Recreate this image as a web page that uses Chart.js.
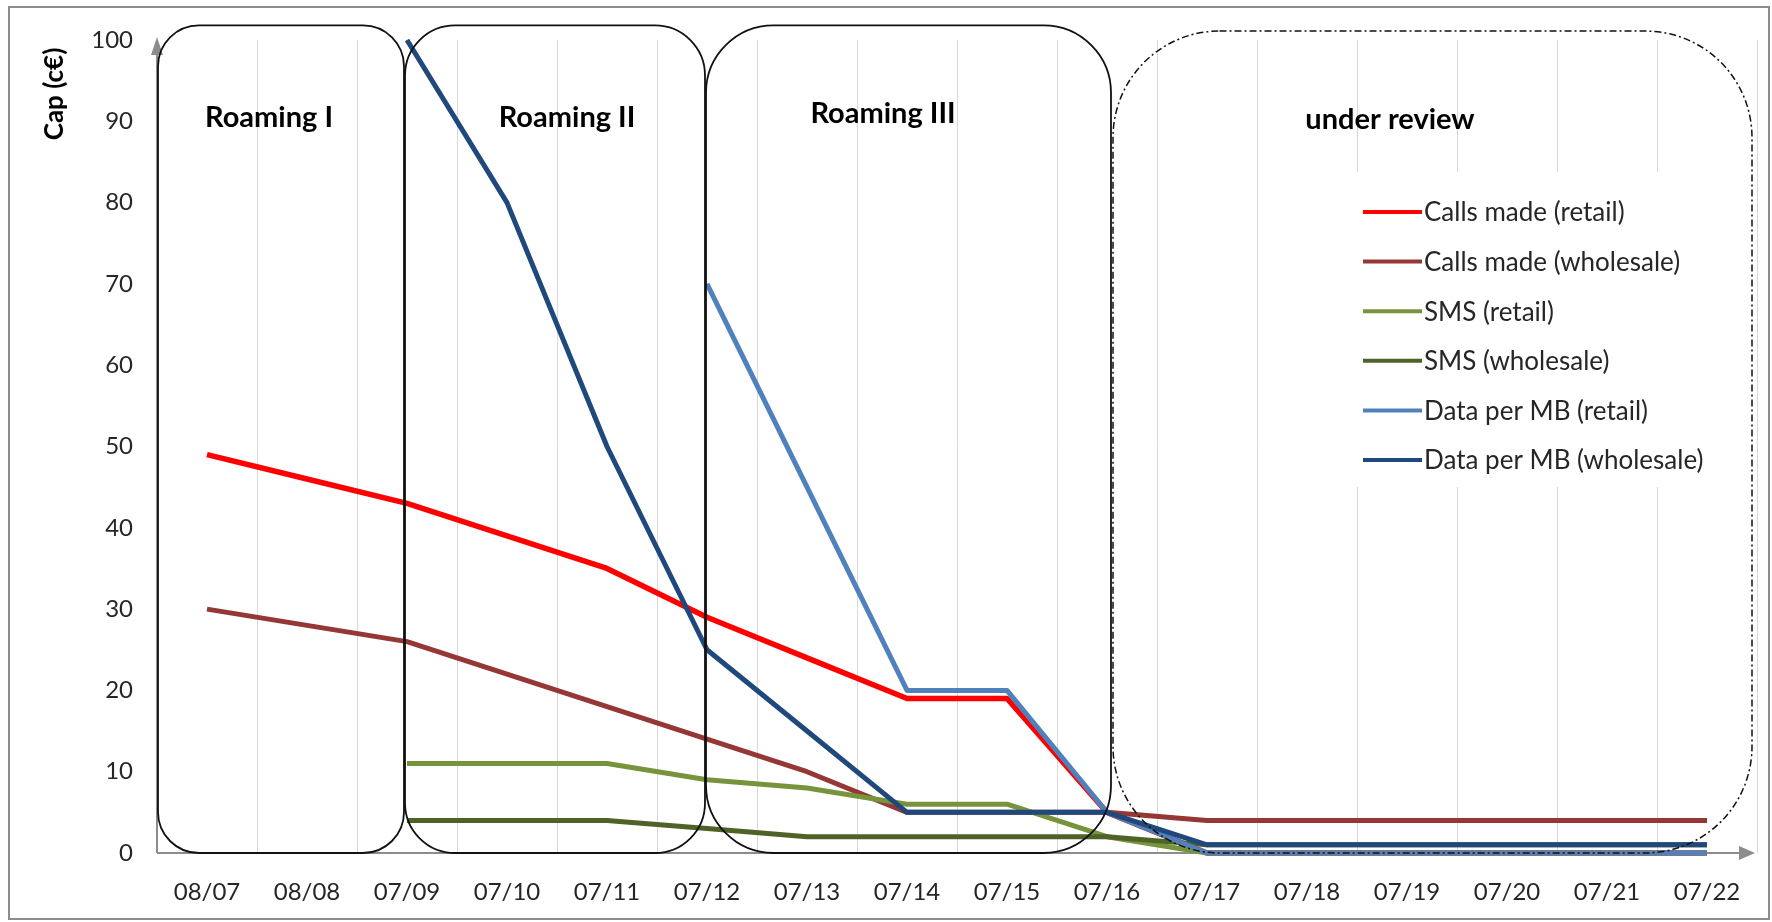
<!DOCTYPE html>
<html>
<head>
<meta charset="utf-8">
<script src="https://cdn.jsdelivr.net/npm/chart.js@4.4.1/dist/chart.umd.min.js"></script>
<style>
  body { margin: 0; background: #fff; }
</style>
</head>
<body>
<canvas id="myChart" width="1772" height="922"></canvas>
<script>
const labels = ["08/07", "08/08", "07/09", "07/10", "07/11", "07/12", "07/13", "07/14",
  "07/15", "07/16", "07/17", "07/18", "07/19", "07/20", "07/21", "07/22"];

const callsRetail = [49, 46, 43, 39, 35, 29, 24, 19, 19, 5, 0, 0, 0, 0, 0, 0];
const callsWholesale = [30, 28, 26, 22, 18, 14, 10, 5, 5, 5, 4, 4, 4, 4, 4, 4];
const smsRetail = [null, null, 11, 11, 11, 9, 8, 6, 6, 2, 0, 0, 0, 0, 0, 0];
const smsWholesale = [null, null, 4, 4, 4, 3, 2, 2, 2, 2, 1, 1, 1, 1, 1, 1];
const dataRetail = [null, null, null, null, null, 70, 45, 20, 20, 5, 0, 0, 0, 0, 0, 0];
const dataWholesale = [null, null, 100, 80, 50, 25, 15, 5, 5, 5, 1, 1, 1, 1, 1, 1];

const seriesNames = ["Calls made (retail)", "Calls made (wholesale)", "SMS (retail)",
  "SMS (wholesale)", "Data per MB (retail)", "Data per MB (wholesale)"];
const seriesValues = [callsRetail, callsWholesale, smsRetail, smsWholesale, dataRetail, dataWholesale];
const seriesColors = ["#ff0000", "#953735", "#77933c", "#4f6228", "#4f81bd", "#1f497d"];

const periodNames = ["Roaming I", "Roaming II", "Roaming III", "under review"];

const FONT = "Lato, 'Liberation Sans', sans-serif";
const TEXT = "#262626";
const AXIS = "#8c8c8c";

// period boxes, in category index / value units
const boxes = [
  { from: -0.49, to: 1.97, top: 101.8, dashed: false, lx: 0.62, ly: 90.5 },
  { from: 1.98, to: 4.98, top: 101.8, dashed: false, lx: 3.6, ly: 90.5 },
  { from: 4.99, to: 9.04, top: 101.8, dashed: false, lx: 6.76, ly: 91 },
  { from: 9.06, to: 15.45, top: 101.1, dashed: true, lx: 11.83, ly: 90.2 },
];

function roundBox(ctx, x, y, w, h, r) {
  ctx.beginPath();
  ctx.moveTo(x + r, y);
  ctx.arcTo(x + w, y, x + w, y + h, r);
  ctx.arcTo(x + w, y + h, x, y + h, r);
  ctx.arcTo(x, y + h, x, y, r);
  ctx.arcTo(x, y, x + w, y, r);
  ctx.closePath();
}

const overlay = {
  id: "overlay",
  beforeDraw(chart) {
    const ctx = chart.ctx;
    ctx.save();
    ctx.fillStyle = "#fff";
    ctx.fillRect(0, 0, chart.width, chart.height);
    ctx.restore();
  },
  beforeDatasetsDraw(chart) {
    const { ctx, chartArea } = chart;
    const { left, right, top, bottom } = chartArea;
    ctx.save();
    ctx.strokeStyle = AXIS;
    ctx.fillStyle = AXIS;
    ctx.lineWidth = 2;
    ctx.beginPath();
    ctx.moveTo(left, bottom);
    ctx.lineTo(left, top + 14);
    ctx.moveTo(left, bottom);
    ctx.lineTo(right - 16, bottom);
    ctx.stroke();
    // arrow heads
    ctx.beginPath();
    ctx.moveTo(left, top - 3);
    ctx.lineTo(left - 6, top + 15);
    ctx.lineTo(left + 6, top + 15);
    ctx.closePath();
    ctx.fill();
    ctx.beginPath();
    ctx.moveTo(right - 2, bottom);
    ctx.lineTo(right - 18, bottom - 7);
    ctx.lineTo(right - 18, bottom + 7);
    ctx.closePath();
    ctx.fill();
    ctx.restore();
  },
  afterDatasetsDraw(chart) {
    const ctx = chart.ctx;
    const xs = chart.scales.x;
    const ys = chart.scales.y;
    ctx.save();

    // legend
    ctx.fillStyle = "#fff";
    ctx.fillRect(1350, 172, 380, 315);
    ctx.font = "26px " + FONT;
    ctx.textBaseline = "middle";
    ctx.textAlign = "left";
    seriesNames.forEach((name, i) => {
      const y = 212 + i * 49.6;
      ctx.strokeStyle = seriesColors[i];
      ctx.lineWidth = 4;
      ctx.beginPath();
      ctx.moveTo(1363, y);
      ctx.lineTo(1422, y);
      ctx.stroke();
      ctx.fillStyle = TEXT;
      ctx.fillText(name, 1424, y + 1);
    });

    // period boxes
    boxes.forEach((b, i) => {
      const x0 = xs.getPixelForValue(b.from);
      const x1 = xs.getPixelForValue(b.to);
      const y0 = ys.getPixelForValue(b.top);
      const y1 = ys.getPixelForValue(0);
      const r = Math.min(x1 - x0, y1 - y0) * 0.1667;
      ctx.strokeStyle = "#111";
      ctx.lineWidth = b.dashed ? 1.5 : 1.8;
      ctx.setLineDash(b.dashed ? [7, 3, 2, 3] : []);
      roundBox(ctx, x0, y0, x1 - x0, y1 - y0, r);
      ctx.stroke();
      ctx.setLineDash([]);
      ctx.fillStyle = "#000";
      ctx.font = "bold 29px " + FONT;
      ctx.textAlign = "center";
      ctx.fillText(periodNames[i], xs.getPixelForValue(b.lx), ys.getPixelForValue(b.ly));
    });
    ctx.restore();
  },
  afterDraw(chart) {
    const ctx = chart.ctx;
    ctx.save();
    // outer frame
    ctx.strokeStyle = AXIS;
    ctx.lineWidth = 2;
    ctx.strokeRect(9, 7, 1760, 912);
    // y axis title
    ctx.translate(55, 94);
    ctx.rotate(-Math.PI / 2);
    ctx.font = "bold 26px " + FONT;
    ctx.fillStyle = "#000";
    ctx.textAlign = "center";
    ctx.textBaseline = "middle";
    ctx.fillText("Cap (c\u20ac)", 0, 0);
    ctx.restore();
  },
};

const ctx = document.getElementById("myChart").getContext("2d");
new Chart(ctx, {
  type: "line",
  data: {
    labels: labels,
    datasets: seriesNames.map((name, i) => ({
      label: name,
      data: seriesValues[i],
      borderColor: seriesColors[i],
      backgroundColor: seriesColors[i],
      borderWidth: i === 0 ? 5.5 : 5,
      borderJoinStyle: "round",
      pointRadius: 0,
      tension: 0,
      clip: false,
      order: seriesNames.length - i,
    })),
  },
  options: {
    responsive: false,
    animation: false,
    devicePixelRatio: 1,
    layout: { padding: { top: 40, right: 15, bottom: 0, left: 0 } },
    plugins: {
      legend: { display: false },
      tooltip: { enabled: false },
    },
    scales: {
      x: {
        offset: true,
        grid: { offset: true, color: "#d9d9d9", lineWidth: 1, drawTicks: false },
        border: { display: false },
        ticks: {
          font: { family: FONT, size: 24 },
          color: TEXT,
          padding: 25,
          maxRotation: 0,
          autoSkip: false,
        },
        afterFit: (s) => { s.height = 69; },
      },
      y: {
        min: 0,
        max: 100,
        grid: { display: false, drawTicks: false },
        border: { display: false },
        ticks: {
          stepSize: 10,
          font: { family: FONT, size: 24 },
          color: TEXT,
          padding: 24,
        },
        afterFit: (s) => { s.width = 157; },
      },
    },
  },
  plugins: [overlay],
});
</script>
</body>
</html>
